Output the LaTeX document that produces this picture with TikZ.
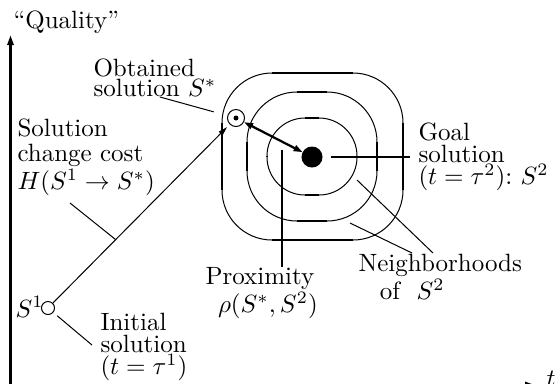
\documentclass[tikz,border=0pt]{standalone}
\usepackage{amsmath}
\usepackage{tikz}
\usetikzlibrary{arrows.meta, calc}
\tikzset{
    txt/.style={align=left, inner sep=0pt, anchor=north west, font=\fontsize{10}{8.8}\selectfont},
    ring/.style={line width=0.4pt},
    flat/.style={line width=0.9pt},
    lead/.style={line width=0.4pt},
    leadthick/.style={line width=0.9pt},
    axis/.style={-{Triangle[length=4pt,width=2.4pt]}, line width=1pt},
    arrow/.style={-{Triangle[length=3.6pt,width=2pt]}, line width=0.4pt},
    darrow/.style={{Triangle[length=3.6pt,width=2.4pt]}-{Triangle[length=3.6pt,width=2.4pt]}, line width=0.9pt},
    dot/.style={circle, draw, inner sep=0pt},
}
\begin{document}
\begin{tikzpicture}[x=0.4pt, y=-0.4pt]
    \useasboundingbox (0,0) rectangle (559,383);

    % Axes
    \coordinate (origin) at (10.5,385);
    \coordinate (qtop) at (10.5,35);
    \coordinate (tend) at (535,385);
    \draw[axis] (origin) -- (qtop);
    \draw[axis] (origin) -- (tend);
    \node[txt] (quality) at (13,10) {``Quality''};
    \node[txt, anchor=base west] (tlbl) at (546,386) {$t$};

    % Neighborhoods of the goal
    \foreach \l/\t/\r/\b/\c in {222/73/403/240/50, 247/92/377/221/50, 267/118/357/195/38} {
        \draw[ring, rounded corners=\c*0.4pt] (\l,\t) rectangle (\r,\b);
        \draw[flat] (\l+\c,\t) -- (\r-\c,\t);
        \draw[flat] (\l+\c,\b) -- (\r-\c,\b);
        \draw[flat] (\l,\t+\c) -- (\l,\b-\c);
        \draw[flat] (\r,\t+\c) -- (\r,\b-\c);
    }

    % Solutions
    \node[dot, fill=black, minimum size=8pt] (goal) at (312,157) {};
    \node[dot, fill=white, minimum size=6.8pt] (obt) at (236,118) {};
    \fill (obt) circle (1pt);
    \node[dot, fill=white, minimum size=5.2pt] (init) at (48,308) {};
    \node[txt, anchor=base west] (s1lbl) at (15,317) {$S^1$};

    % Moves
    \draw[arrow, shorten >=1.5pt] (init) -- (obt);
    \draw[darrow] (obt) -- (goal);

    % Labels
    \node[txt, font=\fontsize{10}{8}\selectfont] (obtlbl) at (93,58) {Obtained\\solution $S^*$};
    \node[txt, font=\fontsize{10}{10}\selectfont] (costlbl) at (17,118) {Solution\\change cost\\$H(S^1\to S^*)$};
    \node[txt] (initlbl) at (100,313) {Initial\\solution\\$(t=\tau^1)$};
    \node[txt] (goallbl) at (418,122) {Goal\\solution\\$(t=\tau^2)$:~$S^2$};
    \node[txt, font=\fontsize{10}{7.6}\selectfont] (proxlbl) at (205,267) {Proximity\\\hspace{5pt}$\rho(S^*,S^2)$};
    \node[txt, font=\fontsize{10}{11.2}\selectfont] (neighlbl) at (358,254) {Neighborhoods\\\hspace{8.5pt}of~~$S^2$};

    % Leader lines
    \coordinate (obtfoot) at (160,97);
    \coordinate (costfoot) at (70,203);
    \coordinate (costpt) at ($(init)!0.36!(obt)$);
    \coordinate (initfoot) at (92,345);
    \coordinate (proxtop) at (282,150);
    \coordinate (nfoot1) at (433,253);
    \coordinate (nfoot2) at (412,253);
    \coordinate (innerpt) at (357,180);
    \coordinate (midpt) at (350,223);
    \draw[lead, shorten >=5.6pt] (obtfoot) -- (obt);
    \draw[lead] (costfoot) -- (costpt);
    \draw[lead, shorten <=2pt] (init) -- (initfoot);
    \draw[leadthick, shorten <=3.2pt, shorten >=3.2pt] (goal) -- (goal -| goallbl.west);
    \draw[leadthick] (proxlbl.north -| proxtop) -- (proxtop);
    \draw[lead] (nfoot1) -- (innerpt);
    \draw[lead] (nfoot2) -- (midpt);
\end{tikzpicture}
\end{document}
